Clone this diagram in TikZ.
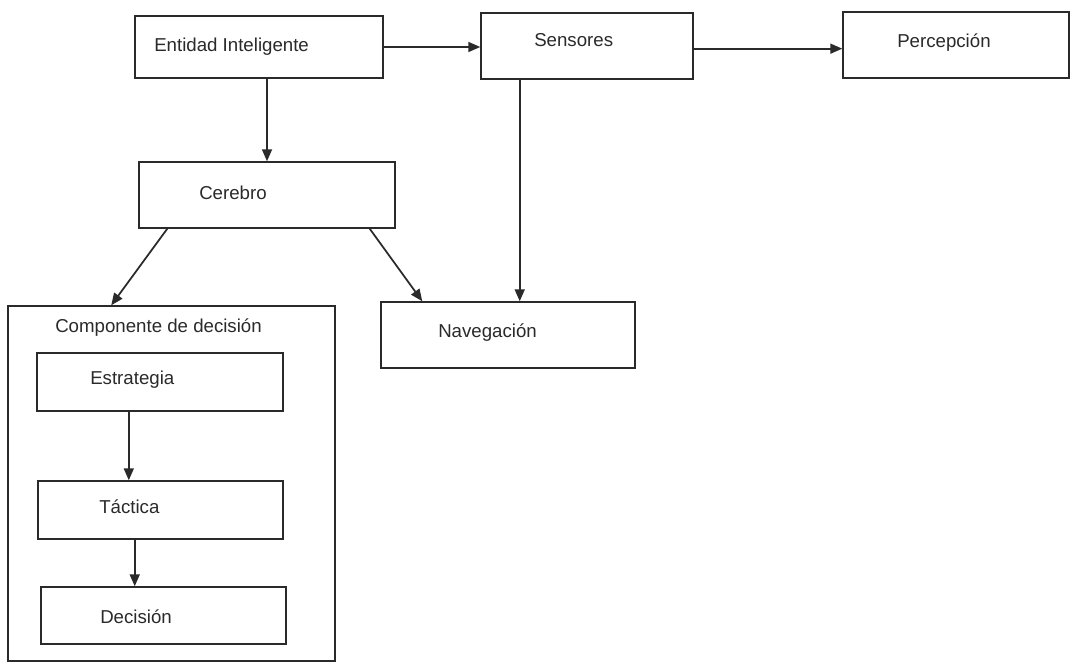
\documentclass[tikz,border=0pt]{standalone}
\usepackage{fontspec}
\setmainfont{Liberation Sans}
\usetikzlibrary{arrows.meta,calc}
\definecolor{ink}{HTML}{2A2A2A}
\begin{document}
\begin{tikzpicture}[x=0.75pt,y=-0.75pt,
  box/.style n args={2}{draw=ink,line width=1.1pt,rectangle,inner sep=0pt,
    minimum width=#1*0.75pt,minimum height=#2*0.75pt},
  lbl/.style={anchor=west,inner sep=0pt,text=ink,font=\fontsize{14}{16}\selectfont},
  arr/.style={draw=ink,line width=1.3pt,-{Triangle[length=9pt,width=7.5pt]}}]
  \fill[white] (0,0) rectangle (1071,663);
  \useasboundingbox (0,0) rectangle (1071,663);

  % boxes
  \node[box={248}{62}]  (ent)  at (259,47) {};
  \node[box={212}{66}]  (sen)  at (587,46) {};
  \node[box={226}{66}]  (per)  at (956,45) {};
  \node[box={256}{66}]  (cer)  at (267,195) {};
  \node[box={327}{355}] (comp) at (171.5,483.5) {};
  \node[box={254}{66}]  (nav)  at (508,335) {};
  \node[box={246}{58}]  (est)  at (160,382) {};
  \node[box={245}{58}]  (tac)  at (160.5,510) {};
  \node[box={245}{57}]  (dec)  at (163.5,615.5) {};

  % labels
  \node[lbl] (t-ent)  at (154,47)  {Entidad Inteligente};
  \node[lbl] (t-sen)  at (534,40)  {Sensores};
  \node[lbl] (t-per)  at (897,43)  {Percepción};
  \node[lbl] (t-cer)  at (199,193) {Cerebro};
  \node[lbl] (t-comp) at (55,328)  {Componente de decisión};
  \node[lbl] (t-nav)  at (438,333) {Navegación};
  \node[lbl] (t-est)  at (90,380)  {Estrategia};
  \node[lbl] (t-tac)  at (99,507)  {Táctica};
  \node[lbl] (t-dec)  at (100,617) {Decisión};

  % connectors
  \draw[arr] (ent.east) -- (ent.east -| sen.west);
  \draw[arr] ([yshift=-2pt]sen.east) -- ([yshift=-2pt]sen.east -| per.west);
  \draw[arr] (ent.south -| cer.north) -- (cer.north);
  \draw[arr] ([xshift=29.6pt]sen.south west) -- ([xshift=29.6pt]sen.south west |- nav.north);
  \draw[arr] ([xshift=21.75pt]cer.south west) -- ([xshift=78pt]comp.north west);
  \draw[arr] ([xshift=-19.5pt]cer.south east) -- ([xshift=31.5pt]nav.north west);
  \draw[arr] ([xshift=69.4pt]est.south west) -- ([xshift=69.4pt]est.south west |- tac.north);
  \draw[arr] ([xshift=73.1pt]tac.south west) -- ([xshift=73.1pt]tac.south west |- dec.north);
\end{tikzpicture}
\end{document}
